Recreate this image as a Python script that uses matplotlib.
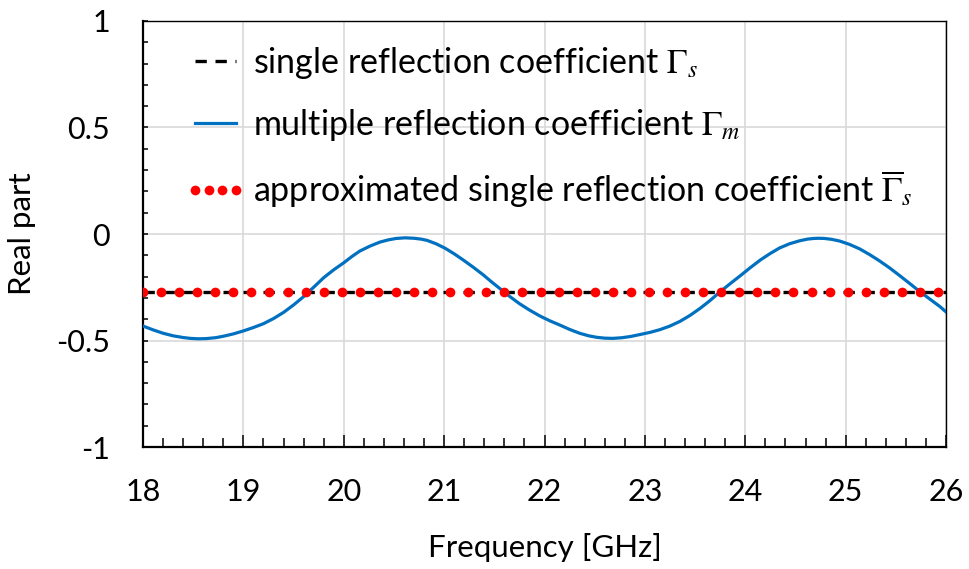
#!usr/bin/env python3

import numpy as np
import matplotlib
matplotlib.use("Agg")
import matplotlib.pyplot as plt
from matplotlib.ticker import MultipleLocator, FixedLocator

plt.rcParams['font.family'] = ['Lato', 'DejaVu Sans']
plt.rcParams['mathtext.fontset'] = 'stix'

# Multiple reflection coefficient (real part)
freq_m = [18.00, 18.10, 18.20, 18.30, 18.40, 18.47, 18.55, 18.63, 18.72, 18.80,
          18.90, 19.00, 19.10, 19.20, 19.30, 19.40, 19.50, 19.60, 19.70, 19.80,
          19.90, 20.00, 20.08, 20.16, 20.26, 20.36, 20.44, 20.52, 20.61, 20.70,
          20.77, 20.83, 20.92, 21.01, 21.10, 21.19, 21.29, 21.39, 21.47, 21.56,
          21.65, 21.75, 21.85, 21.95, 22.05, 22.15, 22.25, 22.35, 22.44, 22.52,
          22.60, 22.68, 22.77, 22.86, 22.95, 23.05, 23.15, 23.25, 23.35, 23.45,
          23.55, 23.65, 23.75, 23.85, 23.95, 24.05, 24.15, 24.25, 24.34, 24.44,
          24.54, 24.62, 24.68, 24.73, 24.79, 24.86, 24.94, 25.04, 25.14, 25.24,
          25.34, 25.44, 25.54, 25.64, 25.74, 25.84, 25.94, 26.00]
gamma_m = [-0.432, -0.450, -0.466, -0.478, -0.486, -0.490, -0.492, -0.491, -0.487, -0.480,
           -0.469, -0.455, -0.439, -0.421, -0.397, -0.368, -0.333, -0.294, -0.250, -0.205,
           -0.168, -0.135, -0.106, -0.080, -0.057, -0.038, -0.028, -0.021, -0.018, -0.020,
           -0.024, -0.030, -0.046, -0.067, -0.093, -0.122, -0.156, -0.192, -0.224, -0.258,
           -0.292, -0.327, -0.357, -0.384, -0.407, -0.427, -0.448, -0.466, -0.478, -0.485,
           -0.489, -0.490, -0.487, -0.481, -0.472, -0.462, -0.449, -0.432, -0.410, -0.382,
           -0.349, -0.312, -0.271, -0.233, -0.196, -0.158, -0.122, -0.091, -0.066, -0.046,
           -0.032, -0.024, -0.021, -0.020, -0.021, -0.025, -0.033, -0.049, -0.070, -0.097,
           -0.127, -0.160, -0.196, -0.233, -0.271, -0.306, -0.341, -0.366]

# Single reflection coefficient (constant)
freq_s = [18.0, 26.0]
gamma_s = [-0.27, -0.27]

# Approximated single reflection coefficient, sampled every 0.18 GHz
freq_a = np.linspace(18.0, 25.92, 45)
gamma_a = np.full(45, -0.27)

fig = plt.figure(figsize=(9.69, 5.69), dpi=100)
ax = fig.add_axes([0.1476, 0.2144, 0.8287, 0.7487])

ax.plot(freq_s, gamma_s, color='black', lw=2.4, dashes=(3.4, 2.6), zorder=3,
        label=r'single reflection coefficient $\Gamma_s$')
ax.plot(freq_m, gamma_m, color='#0070C0', lw=2.3, zorder=4,
        label=r'multiple reflection coefficient $\Gamma_m$')
ax.plot(freq_a, gamma_a, 'o', color='red', ms=7.0, mew=0, zorder=5,
        label=r'approximated single reflection coefficient $\overline{\Gamma}_s$')

ax.set_xlim(18, 26)
ax.set_ylim(-1, 1)
ax.xaxis.set_major_locator(MultipleLocator(1))
ax.xaxis.set_minor_locator(MultipleLocator(0.2))
ax.yaxis.set_major_locator(FixedLocator([-1, -0.5, 0, 0.5, 1]))
ax.yaxis.set_minor_locator(MultipleLocator(0.1))
ax.set_yticklabels(['-1', '-0.5', '0', '0.5', '1'])

ax.grid(True, which='major', color='#D9D9D9', lw=1.2, zorder=0)
ax.set_axisbelow(True)

ax.tick_params(axis='x', which='major', direction='in', length=8.5, width=1.1,
               labelsize=22, pad=22)
ax.tick_params(axis='x', which='minor', direction='in', length=6.5, width=1.1)
ax.tick_params(axis='y', which='both', direction='in', length=3.8, width=1.1,
               labelsize=22, pad=24)

for s in ['left', 'bottom']:
    ax.spines[s].set_linewidth(1.6)
for s in ['top', 'right']:
    ax.spines[s].set_linewidth(1.0)

ax.set_xlabel('Frequency [GHz]', fontsize=22.5, labelpad=20)
ax.set_ylabel('Real part', fontsize=22.5, labelpad=14)

ax.legend(loc='upper left', bbox_to_anchor=(0.035, 0.975), frameon=False,
          fontsize=24.5, numpoints=4, handlelength=1.8, handletextpad=0.2,
          labelspacing=0.76, borderaxespad=0)

fig.savefig('out.png', dpi=100)
